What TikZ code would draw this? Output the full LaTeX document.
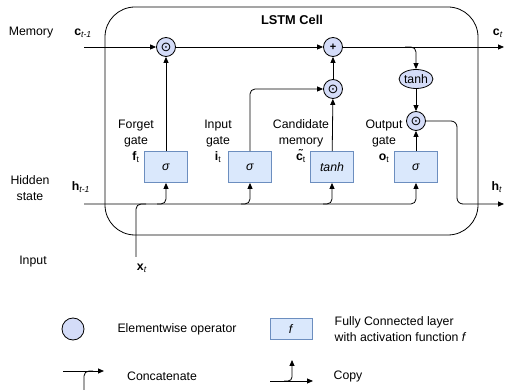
\documentclass[tikz,border=0pt]{standalone}
\usepackage{fontspec}
\setmainfont{Liberation Sans}
\newfontfamily\opfont{DejaVu Sans}
\usepackage{tikz}
\usetikzlibrary{arrows.meta, shapes.geometric}

\definecolor{gatefill}{RGB}{218,232,252}
\definecolor{gateline}{RGB}{108,142,191}
\definecolor{opfill}{RGB}{212,220,248}

\begin{document}
\begin{tikzpicture}[x=1pt, y=-1pt, line width=0.8pt,
    every node/.style={font=\fontsize{12.3}{16}\selectfont},
    op/.style={circle, draw, fill=opfill, minimum size=19pt, inner sep=0pt, font=\opfont\fontsize{13}{13}\selectfont},
    gatebox/.style={draw=gateline, fill=gatefill, minimum width=43pt, minimum height=31pt, inner sep=0pt},
    arr/.style={-{Triangle[length=6pt,width=5pt]}},
    rcorner/.style={rounded corners=5pt}]
  \useasboundingbox (0,0) rectangle (507,390);

  % cell
  \draw [rounded corners=30pt] (105,7) rectangle (478,235);
  \node [font=\fontsize{12.8}{14}\selectfont\bfseries] (title) at (292,20) {LSTM Cell};

  % operators
  \node [op] (fmul) at (166,47) {⊙};
  \node [op, font=\fontsize{11}{11}\selectfont] (add) at (333,47) {\textbf{+}};
  \node [op] (cmul) at (333,89) {⊙};
  \node [ellipse, draw, fill=opfill, minimum width=31pt, minimum height=19pt, inner sep=0pt] (tanhc) at (416,79) {tanh};
  \node [op] (omul) at (416,121) {⊙};

  % gates
  \node [gatebox] (fgate) at (166,167) {\textit{σ}};
  \node [gatebox] (igate) at (250,167) {\textit{σ}};
  \node [gatebox] (cgate) at (332,167) {\textit{tanh}};
  \node [gatebox] (ogate) at (416,167) {\textit{σ}};

  \node [align=center] (flab) at (136,141) {Forget\\gate\\\textbf{f}\textsubscript{t}};
  \node [align=center] (ilab) at (218,141) {Input\\gate\\\textbf{i}\textsubscript{t}};
  \node [align=center] (clab) at (301,141) {Candidate\\memory\\\textbf{\~{c}}\textsubscript{t}};
  \node [align=center] (olab) at (384,141) {Output\\gate\\\textbf{o}\textsubscript{t}};

  % side labels
  \node (mem) at (31,33) {Memory};
  \node (cprev) at (83,33) {\textbf{c}\textsubscript{\textit{t-1}}};
  \node (cnext) at (498,33) {\textbf{c}\textsubscript{\textit{t}}};
  \node [align=center] (hid) at (30,188) {Hidden\\state};
  \node (hprev) at (81,187) {\textbf{h}\textsubscript{\textit{t-1}}};
  \node (hnext) at (497,187) {\textbf{h}\textsubscript{\textit{t}}};
  \node (inp) at (33,262) {Input};
  \node (xlab) at (142,268) {\textbf{x}\textsubscript{\textit{t}}};

  \coordinate (cin) at (84,47);
  \coordinate (cout) at (504,47);
  \coordinate (hin) at (84,204);
  \coordinate (hbend) at (457,204);
  \coordinate (hout) at (504,204);
  \coordinate (xin) at (136,257);
  \coordinate (xjoin) at (146,204);
  \coordinate (tsplit) at (405,47);

  % memory path
  \draw [arr] (cin) -- (fmul);
  \draw [arr] (fmul) -- (add);
  \draw [arr] (add) -- (cout);
  \draw [arr, rcorner] (tsplit) -| (tanhc.north);
  \draw [arr] (tanhc) -- (omul);
  \draw [arr] (cmul) -- (add);
  \draw [arr] (fgate) -- (fmul);
  \draw [arr, rcorner] (igate.north) |- (cmul);
  \draw [arr] (cgate) -- (cmul);
  \draw [arr] (ogate) -- (omul);
  \draw [arr, rounded corners=6pt] (omul) -| (hbend) -- (hout);

  % hidden state and input
  \draw [arr, rcorner] (hin) -| (ogate.south);
  \draw [rcorner] (xin) |- (xjoin);
  \draw [arr, rcorner] (157,204) -| (fgate.south);
  \draw [arr, rcorner] (241,204) -| (igate.south);
  \draw [arr, rcorner] (323,204) -| (cgate.south);

  % legend
  \node [circle, draw, fill=opfill, minimum size=22pt, inner sep=0pt] (lgop) at (73,329) {};
  \node (lgoptxt) at (177,329) {Elementwise operator};
  \node [draw=gateline, fill=gatefill, minimum width=42pt, minimum height=21pt, inner sep=0pt] (lgfc) at (291,329) {\textit{f}};
  \node [align=left, anchor=west] (lgfctxt) at (331,329) {Fully Connected layer\\with activation function \textit{f}};

  \coordinate (catA) at (63,371);
  \coordinate (catB) at (104,371);
  \coordinate (catC) at (84,391);
  \draw [arr] (catA) -- (catB);
  \draw [rcorner] (catC) |- (93,371);
  \node (lgcat) at (162,376) {Concatenate};

  \coordinate (cpA) at (270,381);
  \coordinate (cpB) at (313,381);
  \coordinate (cpC) at (292,360);
  \draw [arr] (cpA) -- (cpB);
  \draw [arr, rounded corners=4pt] (284,381) -| (cpC);
  \node (lgcp) at (348,376) {Copy};
\end{tikzpicture}
\end{document}
